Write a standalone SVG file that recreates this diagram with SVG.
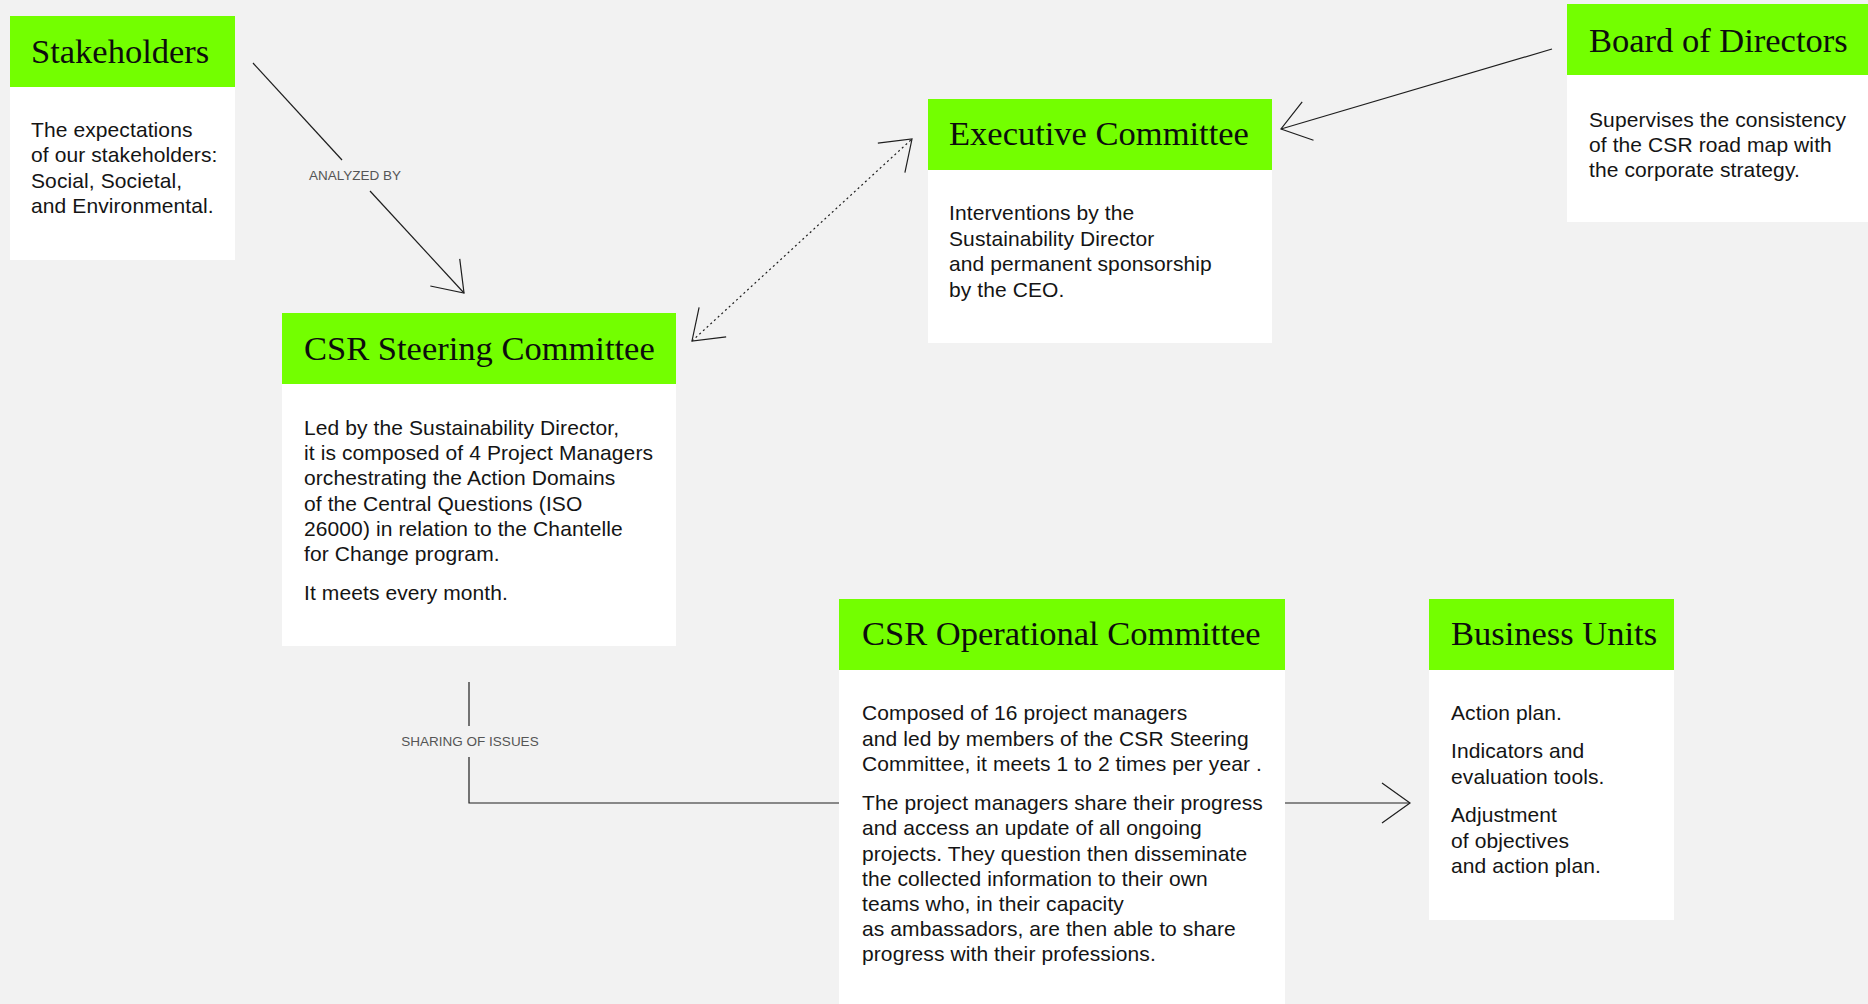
<svg xmlns="http://www.w3.org/2000/svg" width="1868" height="1004" viewBox="0 0 1868 1004">
  <style>
    .card { fill: #ffffff; }
    .head { fill: #73ff00; }
    .title { font-family: "Liberation Serif", "Times New Roman", serif; font-size: 34.5px; fill: #0d0d0d; }
    .body { font-family: "Liberation Sans", Arial, sans-serif; font-size: 21px; letter-spacing: 0.1px; fill: #141414; }
    .lbl { font-family: "Liberation Sans", Arial, sans-serif; font-size: 13.5px; fill: #555555; }
    .wire { fill: none; stroke: #1e1e1e; stroke-width: 1.2; }
    .dots { stroke-dasharray: 2 3; }
  </style>
  <defs>
    <marker id="open" markerUnits="userSpaceOnUse" viewBox="-40 -30 50 60" markerWidth="50" markerHeight="60" refX="0" refY="0" orient="auto-start-reverse" overflow="visible">
      <path d="M-28,-20 L0,0 L-28,20" fill="none" stroke="#1e1e1e" stroke-width="1.2" stroke-dasharray="none"/>
    </marker>
  </defs>

  <rect x="0" y="0" width="1868" height="1004" fill="#f2f2f2"/>

  <!-- connectors -->
  <g id="connectors">
    <!-- stakeholders analyzed by steering committee -->
    <line class="wire" x1="253" y1="63" x2="342" y2="160"/>
    <line class="wire" x1="370" y1="191" x2="464" y2="293" marker-end="url(#open)"/>
    <text class="lbl" x="355" y="180" text-anchor="middle">ANALYZED BY</text>
    <!-- board supervises executive committee -->
    <line class="wire" x1="1552" y1="49" x2="1281" y2="129" marker-end="url(#open)"/>
    <!-- executive committee <-> steering committee -->
    <line class="wire dots" x1="692" y1="341" x2="912" y2="139" marker-start="url(#open)" marker-end="url(#open)"/>
    <!-- steering committee to operational committee -->
    <line class="wire" x1="469" y1="682" x2="469" y2="726"/>
    <text class="lbl" x="470" y="746" text-anchor="middle">SHARING OF ISSUES</text>
    <polyline class="wire" points="469,757 469,803 839,803"/>
    <!-- operational committee to business units -->
    <line class="wire" x1="1285" y1="803" x2="1410" y2="803" marker-end="url(#open)"/>
  </g>

  <g id="stakeholders">
    <rect class="card" x="10" y="16" width="225" height="244"/>
    <rect class="head" x="10" y="16" width="225" height="71"/>
    <text class="title" x="31" y="63">Stakeholders</text>
    <text class="body">
      <tspan x="31" y="137">The expectations</tspan>
      <tspan x="31" y="162">of our stakeholders:</tspan>
      <tspan x="31" y="188">Social, Societal,</tspan>
      <tspan x="31" y="213">and Environmental.</tspan>
    </text>
  </g>

  <g id="executive-committee">
    <rect class="card" x="928" y="99" width="344" height="244"/>
    <rect class="head" x="928" y="99" width="344" height="71"/>
    <text class="title" x="949" y="145">Executive Committee</text>
    <text class="body">
      <tspan x="949" y="220">Interventions by the</tspan>
      <tspan x="949" y="246">Sustainability Director</tspan>
      <tspan x="949" y="271">and permanent sponsorship</tspan>
      <tspan x="949" y="297">by the CEO.</tspan>
    </text>
  </g>

  <g id="board-of-directors">
    <rect class="card" x="1567" y="4" width="310" height="218"/>
    <rect class="head" x="1567" y="4" width="310" height="71"/>
    <text class="title" x="1589" y="52">Board of Directors</text>
    <text class="body">
      <tspan x="1589" y="127">Supervises the consistency</tspan>
      <tspan x="1589" y="152">of the CSR road map with</tspan>
      <tspan x="1589" y="177">the corporate strategy.</tspan>
    </text>
  </g>

  <g id="csr-steering-committee">
    <rect class="card" x="282" y="313" width="394" height="333"/>
    <rect class="head" x="282" y="313" width="394" height="71"/>
    <text class="title" x="304" y="360">CSR Steering Committee</text>
    <text class="body">
      <tspan x="304" y="435">Led by the Sustainability Director,</tspan>
      <tspan x="304" y="460">it is composed of 4 Project Managers</tspan>
      <tspan x="304" y="485">orchestrating the Action Domains</tspan>
      <tspan x="304" y="511">of the Central Questions (ISO</tspan>
      <tspan x="304" y="536">26000) in relation to the Chantelle</tspan>
      <tspan x="304" y="561">for Change program.</tspan>
      <tspan x="304" y="600">It meets every month.</tspan>
    </text>
  </g>

  <g id="csr-operational-committee">
    <rect class="card" x="839" y="599" width="446" height="410"/>
    <rect class="head" x="839" y="599" width="446" height="71"/>
    <text class="title" x="862" y="645">CSR Operational Committee</text>
    <text class="body">
      <tspan x="862" y="720">Composed of 16 project managers</tspan>
      <tspan x="862" y="746">and led by members of the CSR Steering</tspan>
      <tspan x="862" y="771">Committee, it meets 1 to 2 times per year .</tspan>
      <tspan x="862" y="810">The project managers share their progress</tspan>
      <tspan x="862" y="835">and access an update of all ongoing</tspan>
      <tspan x="862" y="861">projects. They question then disseminate</tspan>
      <tspan x="862" y="886">the collected information to their own</tspan>
      <tspan x="862" y="911">teams who, in their capacity</tspan>
      <tspan x="862" y="936">as ambassadors, are then able to share</tspan>
      <tspan x="862" y="961">progress with their professions.</tspan>
    </text>
  </g>

  <g id="business-units">
    <rect class="card" x="1429" y="599" width="245" height="321"/>
    <rect class="head" x="1429" y="599" width="245" height="71"/>
    <text class="title" x="1451" y="645">Business Units</text>
    <text class="body">
      <tspan x="1451" y="720">Action plan.</tspan>
      <tspan x="1451" y="758">Indicators and</tspan>
      <tspan x="1451" y="784">evaluation tools.</tspan>
      <tspan x="1451" y="822">Adjustment</tspan>
      <tspan x="1451" y="848">of objectives</tspan>
      <tspan x="1451" y="873">and action plan.</tspan>
    </text>
  </g>
</svg>
